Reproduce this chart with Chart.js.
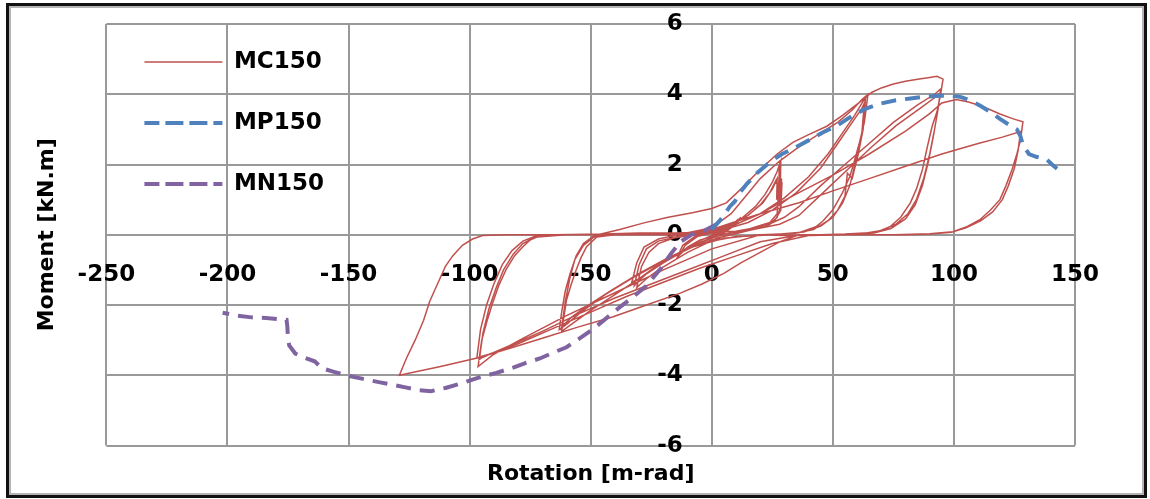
<!DOCTYPE html>
<html>
<head>
<meta charset="utf-8">
<script src="https://cdn.jsdelivr.net/npm/chart.js@4.4.1/dist/chart.umd.min.js"></script>
<style>
html, body { margin: 0; padding: 0; background: #fff; }
#wrap { position: relative; width: 1150px; height: 499px; }
#momentChart { display: block; }
#frame { position: absolute; left: 6px; top: 3px; width: 1135px; height: 489px; border: 3px solid #111; box-shadow: inset 0 0 0 2px #b4b4b4; pointer-events: none; }
</style>
</head>
<body>
<div id="wrap">
  <canvas id="momentChart" width="1150" height="499"></canvas>
  <div id="frame"></div>
</div>
<script>
// axis ranges [min, max, step]
const rotAxis = [-250, 150, 50];
const momAxis = [-6, 6, 2];

// MC150 cyclic test, [rotation, moment], in loading order
const mcStart = [[0, 0], [4, 0.1], [8, 0.25], [11, 0.45], [9, 0.25], [5, 0.05], [0, -0.05], [-5, -0.15], [-10, -0.35], [-13, -0.55], [-11, -0.3], [-6, -0.05], [0, 0.05],
  [5, 0.15], [10, 0.35], [12, 0.5], [10, 0.3], [5, 0.08], [0, -0.02], [-6, -0.2], [-12, -0.45], [-14, -0.6], [-12, -0.3], [-6, 0], [0, 0.08]];

const mc30 = [[6, 0.2], [12, 0.45], [18, 0.8], [22, 1.15], [25, 1.5], [27, 1.8], [28.5, 2.1], [28.2, 1.0], [28.8, 1.6], [28.4, 0.8], [27, 0.5], [24, 0.3], [20, 0.2], [14, 0.1], [8, 0], [2, -0.1],
  [-4, -0.3], [-10, -0.5], [-16, -0.75], [-22, -1.0], [-27, -1.25], [-31, -1.5], [-29, -0.9], [-26, -0.5], [-22, -0.25], [-16, -0.1], [-8, 0], [0, 0.1],
  [8, 0.3], [15, 0.55], [20, 0.85], [24, 1.2], [26.5, 1.55], [27.5, 1.3], [28, 1.9], [27.8, 0.9], [29, 1.5], [28.5, 0.7], [26, 0.4], [20, 0.25], [12, 0.1], [4, 0],
  [-4, -0.2], [-12, -0.45], [-20, -0.75], [-26, -1.05], [-30, -1.3], [-32, -1.45], [-30, -0.85], [-27, -0.4], [-22, -0.18], [-14, -0.05], [-4, 0.05], [0, 0.1],
  [6, 0.25], [14, 0.5], [21, 0.9], [25, 1.3], [27, 1.6], [26.8, 1.0], [28, 1.7], [27, 0.6], [24, 0.35], [16, 0.18], [8, 0.05], [0, -0.08],
  [-8, -0.3], [-16, -0.6], [-24, -0.95], [-30, -1.25], [-33, -1.35], [-31, -0.8], [-28, -0.35], [-22, -0.12], [-14, 0]];

const mc60 = [[0, 0.2], [8, 0.6], [14, 1.1], [20, 1.6], [28, 2.1], [36, 2.5], [45, 2.9], [52, 3.2], [58, 3.55], [62, 3.85], [64.5, 4.0],
  [63, 3.2], [61, 2.63], [58.5, 2.0], [57, 1.66], [54, 1.2], [50, 0.71], [46, 0.4], [43, 0.23], [36, 0.06], [25, 0], [12, -0.05], [0, -0.15],
  [-10, -0.4], [-20, -0.8], [-30, -1.25], [-40, -1.7], [-50, -2.15], [-57, -2.5], [-62, -2.75],
  [-61, -2.3], [-60, -1.86], [-58, -1.4], [-56, -1.0], [-54, -0.65], [-51.7, -0.34], [-47.5, -0.06], [-40, 0], [-25, 0.02], [-10, 0.05],
  [0, 0.15], [10, 0.3], [20, 0.6], [30, 1.05], [40, 1.65], [48, 2.3], [54, 2.9], [59, 3.4], [62, 3.75], [63.5, 3.9],
  [62.5, 3.0], [60.5, 2.3], [58, 1.6], [56, 1.75], [55, 1.1], [52, 0.7], [48, 0.4], [42, 0.15], [34, 0.04], [20, 0], [5, -0.1],
  [-8, -0.35], [-20, -0.75], [-32, -1.2], [-44, -1.7], [-54, -2.2], [-60, -2.55], [-63, -2.7],
  [-62, -2.2], [-60.5, -1.6], [-58.5, -1.1], [-56, -0.6], [-53, -0.25], [-49, -0.05], [-42, 0], [-25, 0.03], [-8, 0.05],
  [5, 0.15], [15, 0.35], [25, 0.7], [35, 1.2], [45, 1.9], [52, 2.6], [58, 3.2], [62, 3.6], [63, 3.75],
  [62, 2.9], [59.5, 2.1], [57, 1.4], [54, 0.9], [50, 0.5], [45, 0.25], [38, 0.08], [25, 0], [10, -0.05],
  [-5, -0.25], [-18, -0.65], [-30, -1.1], [-42, -1.6], [-52, -2.05], [-58, -2.35], [-61, -2.55], [-62, -2.65],
  [-60.5, -1.9], [-58.5, -1.2], [-56.5, -0.7], [-53, -0.3], [-49, -0.08], [-47, 0]];

const mc95 = [[-38, 0.15], [-28, 0.34], [-18, 0.5], [-8, 0.63], [0, 0.75], [6, 0.91], [12, 1.3], [20, 1.86], [27, 2.3], [33.5, 2.63], [40, 2.85], [47.5, 3.09], [54, 3.4], [61, 3.77],
  [66, 4.05], [70, 4.18], [75, 4.29], [80, 4.37], [85, 4.43], [90, 4.48], [93, 4.51], [95.5, 4.43],
  [94.5, 4.0], [93, 3.5], [91, 3.09], [89, 2.5], [87, 1.86], [84.5, 1.3], [82, 0.91], [78, 0.5], [73.6, 0.23], [69, 0.1], [65, 0.06], [55, 0.02], [45, 0], [30, -0.02],
  [20, 0], [0, -0.4], [-20, -1.0], [-40, -1.65], [-60, -2.3], [-78, -2.95], [-90, -3.4], [-96.5, -3.75],
  [-95, -3.0], [-93, -2.5], [-90.5, -1.94], [-88, -1.45], [-85, -1.0], [-81.5, -0.6], [-78, -0.34], [-75, -0.15], [-72, -0.06], [-60, 0], [-45, 0.02], [-30, 0.05], [-15, 0.05], [0, 0.08],
  [10, 0.1], [22, 0.25], [30, 0.5], [36, 0.8], [45, 1.4], [55, 2.0], [65, 2.6], [75, 3.2], [85, 3.7], [92, 4.0], [94.5, 4.15],
  [93.5, 3.6], [92, 3.0], [90, 2.3], [87.5, 1.6], [84.5, 1.0], [81, 0.6], [76, 0.3], [70, 0.12], [62, 0.03], [50, 0], [35, -0.02],
  [20, -0.2], [5, -0.6], [-10, -1.0], [-25, -1.4], [-40, -1.8], [-55, -2.25], [-70, -2.75], [-85, -3.2], [-95, -3.5], [-96, -3.55],
  [-94.5, -2.8], [-92, -2.1], [-89, -1.5], [-86, -1.0], [-82, -0.55], [-78, -0.25], [-73, -0.07], [-65, 0], [-45, 0.02], [-20, 0.04], [0, 0.06],
  [15, 0.12], [28, 0.3], [36, 0.55], [46, 1.2], [56, 1.85], [66, 2.5], [76, 3.1], [86, 3.6], [93, 3.95], [94.5, 4.05],
  [93, 3.4], [91.5, 2.8], [89.5, 2.1], [87, 1.4], [84, 0.85], [80, 0.45], [74, 0.18], [67, 0.05], [55, 0], [40, -0.02],
  [25, -0.25], [10, -0.6], [-5, -0.95], [-20, -1.35], [-35, -1.75], [-50, -2.2], [-65, -2.65], [-80, -3.1], [-92, -3.4], [-97, -3.5],
  [-95.5, -2.7], [-93, -2.0], [-90, -1.4], [-86.5, -0.85], [-82.5, -0.45], [-78, -0.18], [-73, -0.04], [-66, 0]];

const mc130 = [[-40, 0], [-20, 0.02], [0, 0.05], [10, 0.3], [20, 0.6], [28, 0.9], [36, 1.2], [50, 1.7], [65, 2.3], [80, 2.95], [90, 3.45], [95, 3.75], [101, 3.85],
  [106, 3.78], [110.7, 3.68], [115, 3.56], [119, 3.44], [124.5, 3.3], [128.5, 3.22],
  [127.5, 2.7], [126, 2.3], [124, 1.86], [121.5, 1.4], [119, 1.0], [115, 0.7], [110.7, 0.43], [105, 0.22], [99.6, 0.09], [90, 0.03], [75, 0], [60, 0], [45, 0], [36, 0],
  [28, -0.2], [20, -0.5], [12, -0.8], [5, -1.1], [-4, -1.4], [-13, -1.66], [-27, -2.0], [-41, -2.34], [-55, -2.62], [-68, -2.9], [-82, -3.2], [-96, -3.49], [-112, -3.75], [-129, -4.0],
  [-126, -3.5], [-122.5, -3.0], [-119, -2.43], [-116.5, -1.9], [-113.6, -1.45], [-110, -0.9], [-107, -0.6], [-103, -0.3], [-98.8, -0.12], [-94.6, -0.02], [-85, 0], [-60, 0], [-30, 0], [-10, 0], [-5, 0.02],
  [0, 0.15], [10, 0.38], [20, 0.6], [36, 0.91], [50, 1.25], [65, 1.6], [80, 1.95], [95, 2.3], [110, 2.6], [120, 2.78], [127.5, 2.94],
  [126.5, 2.4], [125, 1.9], [122.5, 1.4], [120, 1.0], [116, 0.65], [111, 0.4], [105, 0.2], [99, 0.07], [90, 0.02], [80, 0]];

// MP150 monotonic, positive direction
const mpPoints = [[0, 0.15], [3, 0.38], [5, 0.55], [7.4, 0.8], [9.5, 0.95], [11.6, 1.2], [14.5, 1.45], [16.5, 1.6], [18.6, 1.75], [22, 1.95], [25, 2.12], [29, 2.3],
  [33.5, 2.45], [37, 2.58], [41.7, 2.75], [46, 2.92], [51.6, 3.1], [56, 3.3], [61, 3.5], [64, 3.6], [70, 3.74], [76, 3.83], [82, 3.88], [88, 3.93], [94, 3.96],
  [99, 3.96], [103, 3.92], [107, 3.82], [110.7, 3.68], [115, 3.5], [119, 3.3], [123, 3.12], [126, 3.0], [127.5, 2.8], [128.5, 2.55], [131, 2.3], [134, 2.22],
  [138.4, 2.14], [140.5, 2.0], [142.6, 1.88]];

// MN150 monotonic, negative direction
const mnPoints = [[2, 0.3], [-3, 0.12], [-8, 0.02], [-13, -0.2], [-17, -0.55], [-21, -0.95], [-27, -1.45], [-33, -1.8], [-38, -2.06], [-44, -2.4], [-49, -2.68],
  [-55, -2.97], [-60, -3.2], [-66, -3.37], [-71, -3.52], [-77, -3.65], [-82, -3.78], [-89, -3.93], [-96, -4.06], [-103, -4.22], [-110, -4.36], [-116, -4.45],
  [-121, -4.42], [-126, -4.35], [-131, -4.28], [-137, -4.2], [-144, -4.1], [-151, -4.0], [-156, -3.9], [-161, -3.8], [-164, -3.6], [-168, -3.5], [-172, -3.38],
  [-174.5, -3.15], [-175, -2.95], [-175.3, -2.6], [-175.6, -2.42], [-178.5, -2.4], [-184, -2.37], [-190, -2.35], [-196, -2.3], [-202, -2.22]];

const toXY = (pts) => pts.map(p => ({x: p[0], y: p[1]}));
const mcPoints = [].concat(mcStart, mc30, mc60, mc95, mc130);

Chart.defaults.font.family = "'DejaVu Sans', Verdana, sans-serif";
Chart.defaults.font.weight = 'bold';
Chart.defaults.color = '#000';

const gridColor = '#999999';
const ctx = document.getElementById('momentChart');

new Chart(ctx, {
  type: 'scatter',
  data: {
    datasets: [
      {
        label: 'MC150',
        data: toXY(mcPoints),
        showLine: true,
        borderColor: '#c0504d',
        backgroundColor: '#c0504d',
        borderWidth: 1.5,
        pointRadius: 0,
        xAxisID: 'x', yAxisID: 'y',
        order: 1
      },
      {
        label: 'MP150',
        data: toXY(mpPoints),
        showLine: true,
        borderColor: '#4f81bd',
        backgroundColor: '#4f81bd',
        borderWidth: 4,
        borderDash: [15, 9],
        pointRadius: 0,
        xAxisID: 'x', yAxisID: 'y',
        order: 0
      },
      {
        label: 'MN150',
        data: toXY(mnPoints),
        showLine: true,
        borderColor: '#8064a2',
        backgroundColor: '#8064a2',
        borderWidth: 4,
        borderDash: [15, 9],
        pointRadius: 0,
        xAxisID: 'x', yAxisID: 'y',
        order: 0
      }
    ]
  },
  options: {
    responsive: false,
    animation: false,
    layout: { padding: { left: 10, right: 75, top: 24, bottom: 8 } },
    plugins: {
      legend: {
        position: 'chartArea',
        align: 'start',
        // blank title only pushes the rows down a little
        title: { display: true, text: ' ', font: { size: 10.4 }, padding: 0 },
        labels: {
          boxWidth: 78,
          boxHeight: 0,
          padding: 38,
          font: { size: 23, weight: 'bold' },
          sort: (a, b) => a.datasetIndex - b.datasetIndex
        }
      },
      tooltip: { enabled: false }
    },
    scales: {
      x: {
        type: 'linear',
        position: { y: 0 },
        min: rotAxis[0], max: rotAxis[1],
        ticks: { stepSize: rotAxis[2], padding: 26, font: { size: 23 } },
        grid: { color: gridColor, lineWidth: 2, drawTicks: false },
        border: { color: gridColor, width: 2 }
      },
      y: {
        type: 'linear',
        // labels sit left of the zero line; the x grid draws the line itself
        position: { x: -12 },
        min: momAxis[0], max: momAxis[1],
        ticks: { stepSize: momAxis[2], padding: 0, font: { size: 23 } },
        grid: { color: gridColor, lineWidth: 2, drawTicks: false },
        border: { display: false }
      },
      xTitle: {
        type: 'linear', axis: 'x', position: 'bottom',
        grid: { display: false, drawTicks: false },
        border: { display: false },
        ticks: { display: false },
        title: { display: true, text: 'Rotation [m-rad]', font: { size: 22, weight: 'bold' }, padding: { top: 15, bottom: 4 } }
      },
      yTitle: {
        type: 'linear', axis: 'y', position: 'left',
        grid: { display: false, drawTicks: false },
        border: { display: false },
        ticks: { display: false },
        title: { display: true, text: 'Moment [kN.m]', font: { size: 22, weight: 'bold' }, padding: { top: 24, bottom: 46 } }
      }
    }
  }
});
</script>
</body>
</html>
